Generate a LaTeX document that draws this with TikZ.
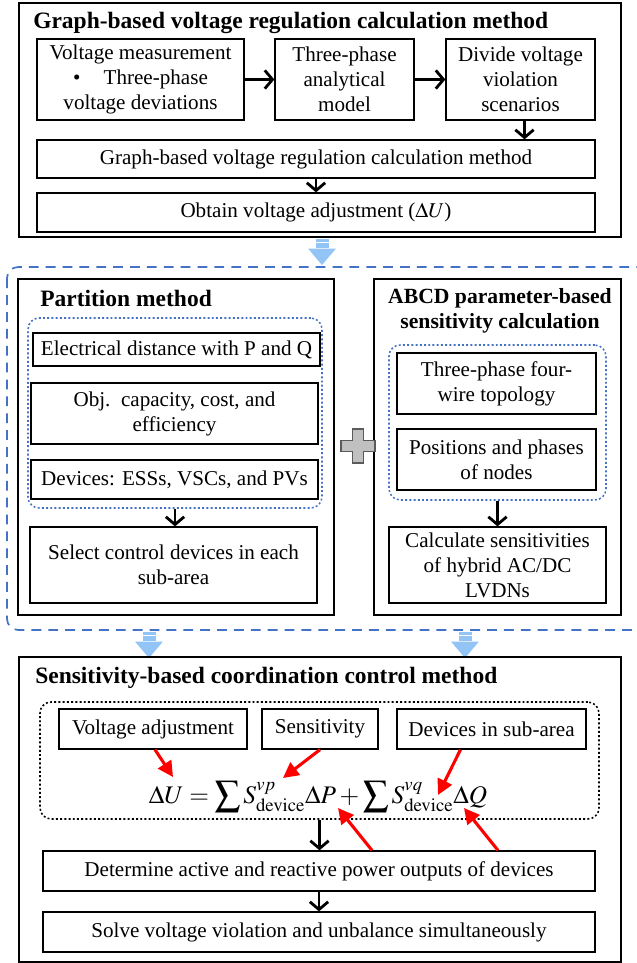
\documentclass[tikz,border=0pt]{standalone}
\usepackage{mathptmx}
\usepackage{fontspec}
\setmainfont{Liberation Serif}
\usetikzlibrary{arrows.meta,calc}
\pgfdeclarelayer{bg}
\pgfsetlayers{bg,main}
\definecolor{dashblue}{RGB}{68,114,196}
\definecolor{arrowblue}{RGB}{146,196,245}
\definecolor{plusgray}{RGB}{192,192,192}
\definecolor{plusline}{RGB}{90,90,90}
\def\px{0.025cm}
\tikzset{
    box/.style={draw, rectangle, line width=0.9pt, align=center, inner sep=0mm,
        font=\rmfamily\fontsize{15}{17.8}\selectfont},
    wh/.style 2 args={minimum width=#1*\px, minimum height=#2*\px},
    head/.style={inner sep=0mm, align=center, font=\rmfamily\fontsize{16.7}{18.5}\selectfont\bfseries},
    frame/.style={draw, line width=0.8pt},
    bluedot/.style={draw=dashblue, line width=1.1pt, dash pattern=on 1.4pt off 1.6pt,
        rounded corners=8pt, inner sep=0mm},
    blackdot/.style={draw=black, line width=1.1pt, dash pattern=on 1.4pt off 1.6pt,
        rounded corners=8pt, inner sep=0mm},
    blackarr/.style={-{Straight Barb[length=5.5pt,width=13pt]}, line width=2pt},
    redarr/.style={-{Triangle[length=11pt,width=11pt]}, line width=2.2pt, red},
    bluearrow/.pic={
        \fill[arrowblue] (-6.5,0) rectangle (6.5,2.5);
        \fill[arrowblue] (-6.5,4) rectangle (6.5,9);
        \fill[arrowblue] (-14,9.5) -- (14,9.5) -- (0,26) -- cycle;
    }
}

\begin{document}
\begin{tikzpicture}[x=\px, y=-\px]
        \useasboundingbox (0,0) rectangle (637,963);
        \draw[frame] (19,3) rectangle (621,237);
        \node[head, anchor=west] (gtitle) at (33,23) {Graph-based voltage regulation calculation method};
        \node[box, wh={207}{81}] (vm) at (140.5,79.5) {Voltage measurement\\ \textbullet\hspace{1.1em}Three-phase\\ voltage deviations};
        \node[box, wh={139}{81}] (tp) at (344.5,79.5) {Three-phase\\ analytical\\ model};
        \node[box, wh={149}{81}] (dv) at (520.5,79.5) {Divide voltage\\ violation\\ scenarios};
        \node[box, wh={558}{38}] (gm) at (316,159) {Graph-based voltage regulation calculation method};
        \node[box, wh={558}{39}] (ob) at (316,212.5) {Obtain voltage adjustment ($\Delta U$)};
        \draw[blackarr] (vm) -- (tp);
        \draw[blackarr] (tp) -- (dv);
        \draw[blackarr] ($(dv.south)+(4,0)$) -- ($(dv.south |- gm.north)+(4,0)$);
        \draw[blackarr] (gm) -- (ob);

        \pic at (322,239) {bluearrow};
        \begin{scope}
                \clip (0,0) rectangle (637,963);
                \draw[dashblue, line width=1.2pt, dash pattern=on 7pt off 5pt, rounded corners=8pt] (7,267) rectangle (660,630);
        \end{scope}
        \draw[frame] (18,279) rectangle (334,615);
        \draw[frame] (374,279) rectangle (621,615);
        \node[head, anchor=west] (ptitle) at (40,298) {Partition method};
        \node[bluedot, wh={294}{190}] (pdot) at (175,413) {};
        \node[box, wh={287}{33}] (ed) at (176.5,349.5) {Electrical distance with P and Q};
        \node[box, wh={287}{61}] (obj) at (174.5,413.5) {Obj.\ \ capacity, cost, and\\ efficiency};
        \node[box, wh={287}{39}] (dev) at (174.5,479.5) {Devices: ESSs, VSCs, and PVs};
        \node[box, wh={287}{76}] (sel) at (173.5,565) {Select control devices in each\\ sub-area};
        \draw[blackarr] (pdot.south) -- (pdot.south |- sel.north);
        \filldraw[fill=plusgray, draw=plusline, line width=0.8pt] (352.5,429) -- (363.5,429) -- (363.5,440.5) -- (375,440.5) -- (375,451.5) -- (363.5,451.5) -- (363.5,463) -- (352.5,463) -- (352.5,451.5) -- (341,451.5) -- (341,440.5) -- (352.5,440.5) -- cycle;
        \node[head, font=\rmfamily\fontsize{15.4}{17.6}\selectfont\bfseries] (atitle) at (500,310.5) {ABCD parameter-based\\ sensitivity calculation};
        \node[bluedot, wh={217}{155}] (rdot) at (497.5,422.5) {};
        \node[box, wh={199}{61}] (tpf) at (496.5,383.5) {Three-phase four-\\ wire topology};
        \node[box, wh={199}{61}] (pos) at (496.5,459.5) {Positions and phases\\ of nodes};
        \node[box, wh={217}{76}] (cal) at (497.5,565) {Calculate sensitivities\\ of hybrid AC/DC\\ LVDNs};
        \draw[blackarr] (rdot.south) -- (rdot.south |- cal.north);

        \pic at (149,632) {bluearrow};
        \pic at (465,632) {bluearrow};
        \draw[frame] (19,657) rectangle (621,962);
        \node[head, anchor=west] (stitle) at (35,678) {Sensitivity-based coordination control method};
        \node[blackdot, wh={559}{117}] (sdot) at (319.5,760.5) {};
        \node[box, wh={188}{40}] (va) at (153,729) {Voltage adjustment};
        \node[box, wh={116}{40}] (sen) at (320,729) {Sensitivity};
        \node[box, wh={189}{40}] (dis) at (491.5,729) {Devices in sub-area};
        \node[inner sep=0mm, font=\fontsize{18}{22}\selectfont] (eq) at (318,797) {$\displaystyle\Delta U = \sum S^{vp}_{\mathrm{device}}\Delta P + \sum S^{vq}_{\mathrm{device}}\Delta Q$};
        \node[box, wh={552}{40}] (det) at (319,871) {Determine active and reactive power outputs of devices};
        \node[box, wh={552}{40}] (sol) at (319,932) {Solve voltage violation and unbalance simultaneously};
        \coordinate (dU) at (173,777);
        \coordinate (Svp) at (283,778);
        \coordinate (Svq) at (438,795);
        \coordinate (dP) at (338,808);
        \coordinate (dQ) at (464,808);
        \draw[redarr] ($(va.south)+(2,0)$) -- (dU);
        \draw[redarr] (sen.south) -- (Svp);
        \draw[redarr] ($(dis.south)+(-31,0)$) -- (Svq);
        \draw[redarr] ($(det.north)+(53,0)$) -- (dP);
        \draw[redarr] ($(det.north)+(179,0)$) -- (dQ);
        \draw[blackarr] (sdot.south) -- (sdot.south |- det.north);
        \draw[blackarr] (det) -- (sol);
\end{tikzpicture}
\end{document}
